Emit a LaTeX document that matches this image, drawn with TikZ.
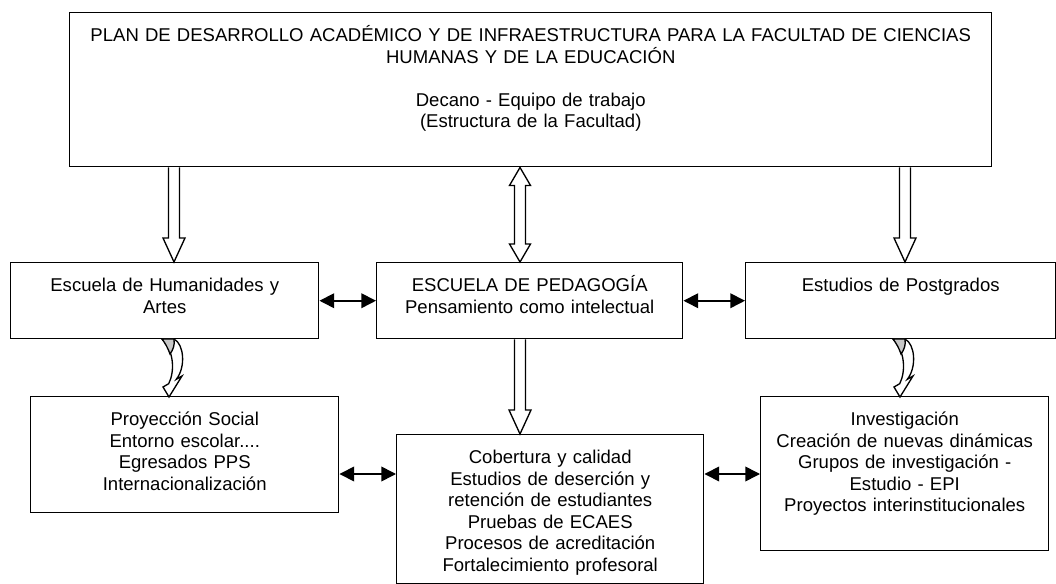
\documentclass[tikz,border=0pt]{standalone}
\usepackage{fontspec}
\setmainfont{Liberation Sans}
\usetikzlibrary{arrows.meta,calc}
\newcommand\myDownArr[2]{%
  \draw[blk] ($(#1)+(-5.5,0)$) -- ($(#2)+(-5.5,-24)$) -- ($(#2)+(-11,-24)$) -- (#2)
    -- ($(#2)+(11,-24)$) -- ($(#2)+(5.5,-24)$) -- ($(#1)+(5.5,0)$);}
\newcommand\myDblArr[2]{%
  \draw[blk] ($(#1)+(-5.5,18)$) -- ($(#2)+(-5.5,-18)$) -- ($(#2)+(-10.5,-18)$) -- (#2)
    -- ($(#2)+(10.5,-18)$) -- ($(#2)+(5.5,-18)$) -- ($(#1)+(5.5,18)$)
    -- ($(#1)+(10.5,18)$) -- (#1) -- ($(#1)+(-10.5,18)$) -- cycle;}
\newcommand\myCurvArr[1]{%
  \begin{scope}[shift={(#1)}]
    \draw[blk, fill=white] (0,0) -- (12,0) .. controls (22,5) and (24,28) .. (14.3,40.3)
      -- (20,37) -- (7,58) -- (1,48) -- (6.7,44.7) .. controls (13,32) and (12,12) .. (0,0) -- cycle;
    \draw[blk, fill=black!22] (0,0) -- (12,0) .. controls (13,6) and (11,11) .. (8,15)
      .. controls (6,9) and (3,4) .. (0,0) -- cycle;
  \end{scope}}
\begin{document}
\begin{tikzpicture}[x=0.75pt,y=-0.75pt,
  box/.style={draw, line width=1.1pt, inner sep=0pt, anchor=north west},
  txt/.style={anchor=base, inner sep=0pt, align=center, text width=#1,
    font=\fontsize{13.9pt}{16.2pt}\selectfont},
  txt/.default=220pt,
  blk/.style={draw, line width=1pt, line join=miter},
  dbl/.style={line width=1.2pt, {Triangle[length=11pt,width=11pt]}-{Triangle[length=11pt,width=11pt]}}
]
\useasboundingbox (0,0) rectangle (1056,584);
% boxes
\node[box, minimum width=691.5pt, minimum height=115.5pt] (T) at (69,12) {};
\node[box, minimum width=231pt, minimum height=57pt] (L) at (10,262) {};
\node[box, minimum width=229.5pt, minimum height=57pt] (C) at (376,262) {};
\node[box, minimum width=232.5pt, minimum height=57pt] (R) at (745,262) {};
\node[box, minimum width=231pt, minimum height=87pt] (P) at (30,396) {};
\node[box, minimum width=230.25pt, minimum height=111.75pt] (Cob) at (396,434) {};
\node[box, minimum width=216pt, minimum height=115.5pt] (Inv) at (760,396) {};
% texts
\node[txt=688pt] (Ttxt) at ($(T.north)+(0,29.5)$)
  {PLAN DE DESARROLLO ACADÉMICO Y DE INFRAESTRUCTURA PARA LA FACULTAD DE CIENCIAS\\HUMANAS Y DE LA EDUCACIÓN\\\mbox{}\\Decano - Equipo de trabajo\\(Estructura de la Facultad)};
\node[txt] (Ltxt) at ($(L.north)+(0,29.5)$) {Escuela de Humanidades y\\Artes};
\node[txt] (Ctxt) at ($(C.north)+(0,29.5)$) {ESCUELA DE PEDAGOGÍA\\Pensamiento como intelectual};
\node[txt] (Rtxt) at ($(R.north)+(0,29.5)$) {Estudios de Postgrados};
\node[txt] (Ptxt) at ($(P.north)+(0,29.5)$) {Proyección Social\\Entorno escolar....\\Egresados PPS\\Internacionalización};
\node[txt] (Cobtxt) at ($(Cob.north)+(0,29.5)$) {Cobertura y calidad\\Estudios de deserción y\\retención de estudiantes\\Pruebas de ECAES\\Procesos de acreditación\\Fortalecimiento profesoral};
\node[txt] (Invtxt) at ($(Inv.north)+(0,29.5)$) {Investigación\\Creación de nuevas dinámicas\\Grupos de investigación -\\Estudio - EPI\\Proyectos interinstitucionales};
% helper coordinates
\coordinate (xL) at (174,0);
\coordinate (xC) at (520,0);
\coordinate (xR) at (905,0);
\coordinate (yLow) at (0,474);
\coordinate (a1) at (T.south -| xL);
\coordinate (a2) at (L.north -| xL);
\coordinate (b1) at (T.south -| xC);
\coordinate (b2) at (C.north -| xC);
\coordinate (c1) at (T.south -| xR);
\coordinate (c2) at (R.north -| xR);
\coordinate (d1) at (C.south -| xC);
\coordinate (d2) at (Cob.north -| xC);
% block arrows
\myDownArr{a1}{a2}
\myDblArr{b1}{b2}
\myDownArr{c1}{c2}
\myDownArr{d1}{d2}
% curved arrows
\coordinate (cL) at (162,339);
\coordinate (cR) at (893,339);
\myCurvArr{cL}
\myCurvArr{cR}
% horizontal double arrows
\draw[dbl] (L.east) -- (C.west);
\draw[dbl] (C.east) -- (R.west);
\draw[dbl] (P.east |- yLow) -- (Cob.west |- yLow);
\draw[dbl] (Cob.east |- yLow) -- (Inv.west |- yLow);
\end{tikzpicture}
\end{document}
